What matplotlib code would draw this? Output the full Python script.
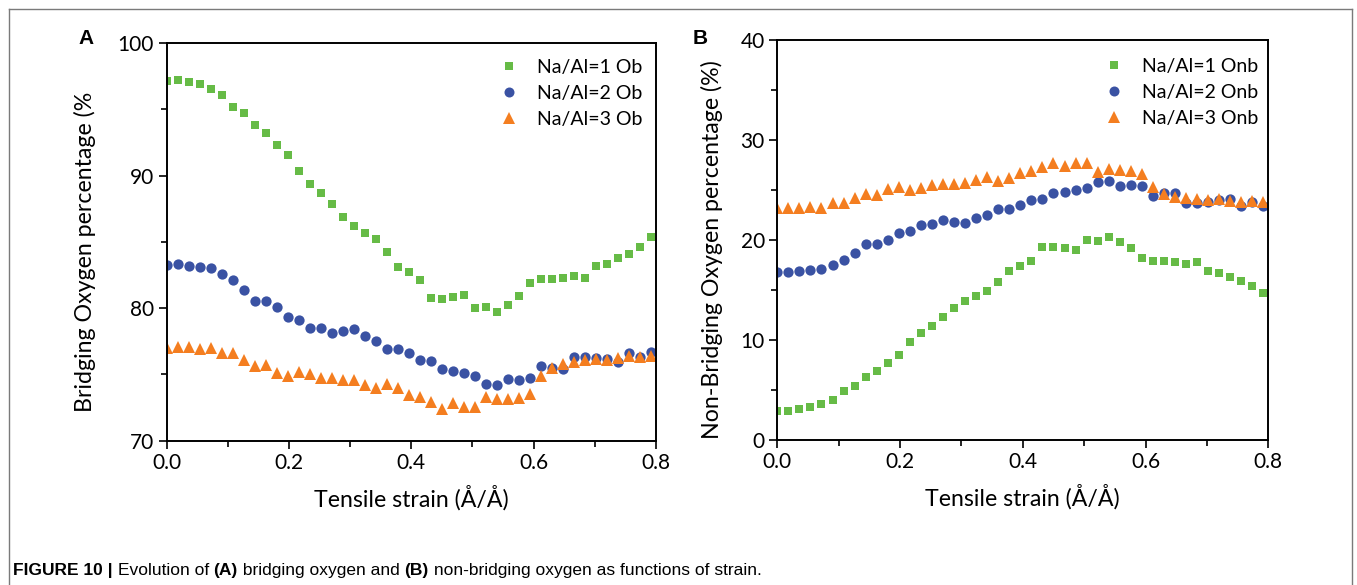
import matplotlib
matplotlib.use("Agg")
import matplotlib.pyplot as plt
from matplotlib.ticker import MultipleLocator
from matplotlib.lines import Line2D

# ---------------- data ----------------
strain = [0.000, 0.018, 0.036, 0.054, 0.072, 0.090, 0.108, 0.126, 0.144, 0.162,
          0.180, 0.198, 0.216, 0.234, 0.252, 0.270, 0.288, 0.306, 0.324, 0.342,
          0.360, 0.378, 0.396, 0.414, 0.432, 0.450, 0.468, 0.486, 0.504, 0.522,
          0.540, 0.558, 0.576, 0.594, 0.612, 0.630, 0.648, 0.666, 0.684, 0.702,
          0.720, 0.738, 0.756, 0.774, 0.792]

ob_na1 = [97.15, 97.2, 97.05, 96.9, 96.55, 96.1, 95.2, 94.7, 93.8, 93.2,
          92.35, 91.55, 90.35, 89.4, 88.7, 87.85, 86.9, 86.2, 85.65, 85.2,
          84.25, 83.1, 82.7, 82.1, 80.75, 80.7, 80.85, 81.0, 80.0, 80.1,
          79.7, 80.25, 80.9, 81.9, 82.2, 82.2, 82.25, 82.4, 82.25, 83.15,
          83.3, 83.8, 84.1, 84.65, 85.4]
ob_na2 = [83.25, 83.3, 83.2, 83.1, 83.05, 82.6, 82.1, 81.4, 80.5, 80.5,
          80.1, 79.35, 79.1, 78.5, 78.5, 78.1, 78.3, 78.4, 77.9, 77.55,
          76.9, 76.9, 76.6, 76.1, 76.0, 75.4, 75.25, 75.1, 74.85, 74.25,
          74.2, 74.65, 74.6, 74.7, 75.6, 75.5, 75.4, 76.3, 76.3, 76.25,
          76.15, 75.95, 76.6, 76.3, 76.65]
ob_na3 = [77.0, 77.05, 77.05, 76.9, 77.0, 76.6, 76.6, 76.1, 75.65, 75.7,
          75.1, 74.85, 75.2, 75.0, 74.75, 74.7, 74.6, 74.55, 74.2, 74.0,
          74.25, 74.0, 73.4, 73.3, 72.9, 72.4, 72.8, 72.5, 72.5, 73.3,
          73.1, 73.1, 73.2, 73.5, 74.85, 75.5, 75.8, 75.9, 76.05, 76.15,
          76.1, 76.25, 76.4, 76.3, 76.35]

onb_na1 = [2.9, 2.9, 3.05, 3.25, 3.55, 4.0, 4.9, 5.4, 6.3, 6.9,
           7.7, 8.5, 9.75, 10.7, 11.4, 12.25, 13.2, 13.9, 14.4, 14.85,
           15.8, 16.9, 17.35, 17.9, 19.3, 19.3, 19.2, 19.0, 20.0, 19.9,
           20.3, 19.8, 19.15, 18.15, 17.9, 17.85, 17.75, 17.6, 17.75, 16.9,
           16.7, 16.25, 15.9, 15.4, 14.7]
onb_na2 = [16.8, 16.75, 16.9, 17.0, 17.05, 17.5, 18.0, 18.65, 19.6, 19.55,
           20.0, 20.75, 20.95, 21.55, 21.6, 22.0, 21.8, 21.7, 22.2, 22.5,
           23.15, 23.15, 23.5, 24.0, 24.1, 24.7, 24.85, 25.0, 25.2, 25.85,
           25.9, 25.4, 25.5, 25.4, 24.4, 24.7, 24.7, 23.75, 23.75, 23.85,
           24.0, 24.15, 23.45, 23.8, 23.4]
onb_na3 = [23.24, 23.2, 23.2, 23.3, 23.25, 23.7, 23.7, 24.2, 24.6, 24.5,
           25.1, 25.3, 25.0, 25.2, 25.55, 25.6, 25.65, 25.7, 26.05, 26.3,
           25.9, 26.2, 26.75, 26.95, 27.3, 27.7, 27.45, 27.7, 27.7, 26.85,
           27.1, 27.0, 26.9, 26.6, 25.3, 24.65, 24.35, 24.2, 24.1, 24.05,
           24.1, 23.95, 23.85, 23.95, 23.85]

labels_a = ["Na/Al=1 Ob", "Na/Al=2 Ob", "Na/Al=3 Ob"]
labels_b = ["Na/Al=1 Onb", "Na/Al=2 Onb", "Na/Al=3 Onb"]

GREEN = "#66BB46"
BLUE = "#3A52A3"
ORANGE = "#F47E20"

FONT = ["Lato", "DejaVu Sans"]
plt.rcParams["font.family"] = FONT

fig = plt.figure(figsize=(13.57, 5.85), dpi=100)

styles = [("s", GREEN, 6.4), ("o", BLUE, 7.4), ("^", ORANGE, 8.0)]
legend_sizes = [5.2, 7.2, 8.0]


def make_panel(rect, ys, labels, ylim, ymaj, ymin, anchor):
    ax = fig.add_axes(rect)
    for y, lab, (m, c, ms) in zip(ys, labels, styles):
        ax.plot(strain, y, linestyle="none", marker=m, color=c, markersize=ms,
                markeredgewidth=0, label=lab, clip_on=True)
    ax.set_xlim(0, 0.8)
    ax.set_ylim(*ylim)
    ax.xaxis.set_major_locator(MultipleLocator(0.2))
    ax.xaxis.set_minor_locator(MultipleLocator(0.1))
    ax.yaxis.set_major_locator(MultipleLocator(ymaj))
    ax.yaxis.set_minor_locator(MultipleLocator(ymin))
    ax.tick_params(which="both", direction="out", top=False, right=False,
                   width=1.2, labelsize=15, pad=3)
    ax.tick_params(which="major", length=6)
    ax.tick_params(which="minor", length=4)
    ax.xaxis.set_major_formatter(matplotlib.ticker.FormatStrFormatter("%.1f"))
    for s in ax.spines.values():
        s.set_linewidth(1.4)
    handles = [Line2D([], [], linestyle="none", marker=m, color=c,
                      markersize=lms, markeredgewidth=0)
               for (m, c, ms), lms in zip(styles, legend_sizes)]
    ax.legend(handles, labels, loc="upper right", frameon=False,
              fontsize=14, handlelength=1.0, handletextpad=0.95,
              labelspacing=0.46, borderaxespad=0.6, bbox_to_anchor=anchor)
    ax.set_xlabel("Tensile strain (Å/Å)", fontsize=16.7, labelpad=8.5)
    return ax


ax1 = make_panel([0.1228, 0.247, 0.3606, 0.679], [ob_na1, ob_na2, ob_na3],
                 labels_a, (70, 100), 10, 5, (1.013, 1.010))
ax2 = make_panel([0.5728, 0.2484, 0.3618, 0.6827], [onb_na1, onb_na2, onb_na3],
                 labels_b, (0, 40), 10, 5, (1.020, 1.005))

fig.text(85 / 1357, 1 - 252 / 585, "Bridging Oxygen percentage (%",
         rotation=90, fontsize=16.7, ha="center", va="center")
fig.text(712 / 1357, 1 - 250 / 585, "Non-Bridging Oxygen percentage (%)",
         rotation=90, fontsize=16.7, ha="center", va="center")

fig.text(86 / 1357, 1 - 38 / 585, "A", fontsize=15, fontweight="bold",
         ha="center", va="center", family=["Liberation Sans", "DejaVu Sans"])
fig.text(700 / 1357, 1 - 38 / 585, "B", fontsize=15, fontweight="bold",
         ha="center", va="center", family=["Liberation Sans", "DejaVu Sans"])

# outer frame
frame_kw = dict(color="#7a7a7a", linewidth=1.0, transform=fig.transFigure)
x0, x1, y0 = 8.5 / 1357, 1351.5 / 1357, 1 - 9 / 585
fig.add_artist(Line2D([x0, x1], [y0, y0], **frame_kw))
fig.add_artist(Line2D([x0, x0], [y0, -0.01], **frame_kw))
fig.add_artist(Line2D([x1, x1], [y0, -0.01], **frame_kw))

# caption with mixed weights
cap_family = ["Liberation Sans Narrow", "Liberation Sans", "DejaVu Sans"]
parts = [("FIGURE 10 | ", "bold"), ("Evolution of ", "normal"), ("(A)", "bold"),
         (" bridging oxygen and ", "normal"), ("(B)", "bold"),
         (" non-bridging oxygen as functions of strain.", "normal")]
renderer = fig.canvas.get_renderer()
xpix = 13.0
ycap = 1 - 575 / 585
for txt, w in parts:
    t = fig.text(xpix / 1357, ycap, txt, fontsize=12.5, fontweight=w,
                 family=cap_family, ha="left", va="baseline")
    bb = t.get_window_extent(renderer=renderer)
    xpix += bb.width

fig.savefig("out.png", dpi=100)
